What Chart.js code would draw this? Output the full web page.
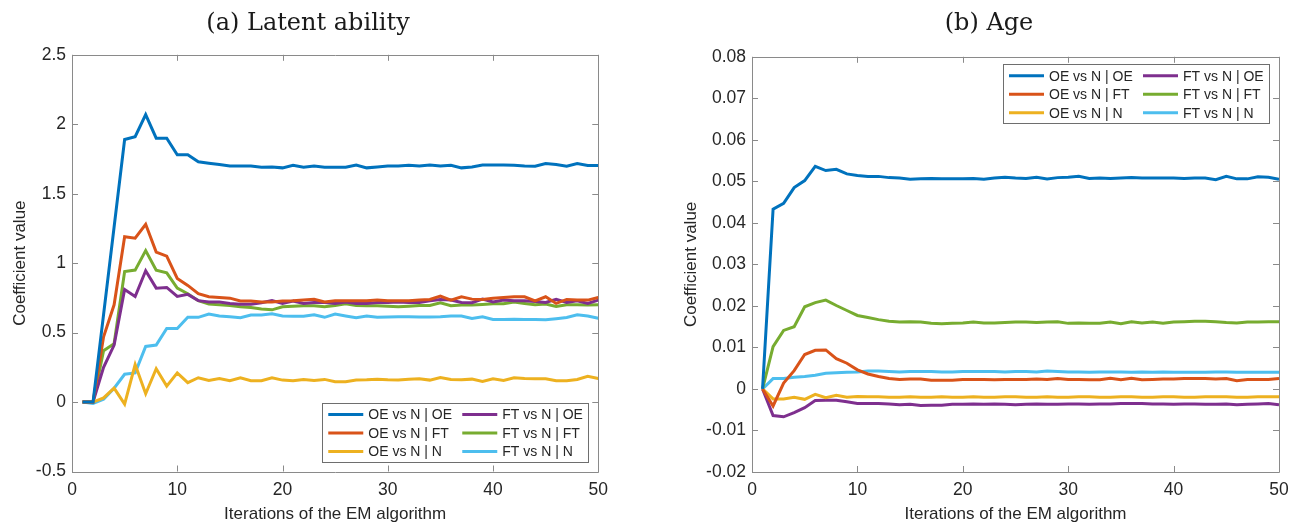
<!DOCTYPE html>
<html>
<head>
<meta charset="utf-8">
<script src="https://cdn.jsdelivr.net/npm/chart.js@4"></script>
<style>
    body { margin: 0; background: #fff; }
    #wrap { position: relative; width: 1301px; height: 531px; }
</style>
</head>
<body>
<div id="wrap">
    <div style="position:absolute;left:0;top:0;width:616px;height:531px"><canvas id="chartA"></canvas></div>
    <div style="position:absolute;left:677px;top:0;width:624px;height:531px"><canvas id="chartB"></canvas></div>
</div>
<script>
// EM iterations
const iterations = [1, 2, 3, 4, 5, 6, 7, 8, 9, 10, 11, 12, 13, 14, 15, 16, 17, 18, 19, 20,
    21, 22, 23, 24, 25, 26, 27, 28, 29, 30, 31, 32, 33, 34, 35, 36, 37, 38, 39, 40,
    41, 42, 43, 44, 45, 46, 47, 48, 49, 50];

const seriesNames = ["OE vs N | OE", "OE vs N | FT", "OE vs N | N", "FT vs N | OE", "FT vs N | FT", "FT vs N | N"];
const seriesColors = ["#0072BD", "#D95319", "#EDB120", "#7E2F8E", "#77AC30", "#4DBEEE"];

// (a) latent ability coefficients
const abilityOEvsN_OE = [0, 0, 0.63, 1.26, 1.89, 1.91, 2.07, 1.90, 1.90, 1.78, 1.78, 1.73, 1.72, 1.71, 1.70, 1.70, 1.70, 1.69, 1.693, 1.686,
    1.705, 1.69, 1.70, 1.69, 1.69, 1.69, 1.707, 1.686, 1.693, 1.70, 1.70, 1.705, 1.70, 1.707, 1.70, 1.705, 1.686, 1.693, 1.707, 1.707,
    1.707, 1.705, 1.70, 1.698, 1.717, 1.71, 1.698, 1.717, 1.703, 1.703];
const abilityOEvsN_FT = [0, 0, 0.47, 0.70, 1.19, 1.18, 1.28, 1.08, 1.05, 0.89, 0.84, 0.78, 0.758, 0.753, 0.748, 0.727, 0.727, 0.72, 0.72, 0.727,
    0.73, 0.735, 0.74, 0.72, 0.73, 0.73, 0.73, 0.73, 0.735, 0.73, 0.73, 0.729, 0.734, 0.739, 0.763, 0.734, 0.758, 0.741, 0.739, 0.748,
    0.753, 0.758, 0.758, 0.729, 0.758, 0.71, 0.739, 0.734, 0.734, 0.753];
const abilityOEvsN_N = [0, 0, 0.03, 0.10, -0.015, 0.27, 0.06, 0.24, 0.115, 0.21, 0.14, 0.175, 0.155, 0.17, 0.153, 0.175, 0.153, 0.153, 0.175, 0.158,
    0.153, 0.163, 0.156, 0.163, 0.146, 0.146, 0.158, 0.16, 0.165, 0.16, 0.158, 0.165, 0.168, 0.158, 0.177, 0.163, 0.16, 0.165, 0.149, 0.168,
    0.156, 0.175, 0.17, 0.168, 0.168, 0.153, 0.153, 0.163, 0.185, 0.17];
const abilityFTvsN_OE = [0, 0, 0.25, 0.41, 0.81, 0.76, 0.945, 0.82, 0.825, 0.76, 0.775, 0.73, 0.72, 0.72, 0.71, 0.705, 0.705, 0.715, 0.73, 0.71,
    0.727, 0.71, 0.717, 0.717, 0.71, 0.72, 0.71, 0.71, 0.717, 0.717, 0.72, 0.717, 0.717, 0.729, 0.739, 0.734, 0.717, 0.715, 0.741, 0.72,
    0.734, 0.729, 0.729, 0.724, 0.717, 0.739, 0.717, 0.729, 0.71, 0.734];
const abilityFTvsN_FT = [0, 0, 0.37, 0.42, 0.94, 0.95, 1.09, 0.95, 0.93, 0.82, 0.78, 0.73, 0.705, 0.70, 0.695, 0.686, 0.68, 0.67, 0.664, 0.686,
    0.69, 0.693, 0.693, 0.686, 0.695, 0.707, 0.695, 0.693, 0.693, 0.69, 0.686, 0.69, 0.695, 0.695, 0.715, 0.693, 0.698, 0.698, 0.703, 0.707,
    0.707, 0.72, 0.71, 0.70, 0.705, 0.688, 0.70, 0.70, 0.698, 0.70];
const abilityFTvsN_N = [0, -0.01, 0.02, 0.10, 0.20, 0.21, 0.40, 0.41, 0.53, 0.53, 0.61, 0.61, 0.633, 0.62, 0.614, 0.607, 0.626, 0.626, 0.635, 0.62,
    0.618, 0.618, 0.628, 0.61, 0.633, 0.62, 0.607, 0.62, 0.61, 0.612, 0.614, 0.614, 0.612, 0.612, 0.614, 0.619, 0.619, 0.602, 0.614, 0.595,
    0.595, 0.597, 0.595, 0.595, 0.592, 0.60, 0.609, 0.628, 0.619, 0.604];

// (b) age coefficients
const ageOEvsN_OE = [0, 0.0433, 0.0447, 0.0485, 0.0502, 0.0536, 0.0526, 0.0529, 0.0518, 0.0514, 0.0512, 0.0512, 0.0509, 0.0508, 0.0505, 0.0506, 0.0507, 0.0506, 0.0506, 0.0506,
    0.0507, 0.0505, 0.0508, 0.051, 0.0508, 0.0507, 0.051, 0.0506, 0.0509, 0.051, 0.0512, 0.0507, 0.0508, 0.0507, 0.0508, 0.0509, 0.0508, 0.0508, 0.0508, 0.0508,
    0.0507, 0.0508, 0.0508, 0.0504, 0.0512, 0.0506, 0.0506, 0.0511, 0.051, 0.0505];
const ageOEvsN_FT = [0, -0.0041, 0.0014, 0.0044, 0.0083, 0.0093, 0.0094, 0.0073, 0.0062, 0.0046, 0.0036, 0.003, 0.0025, 0.0023, 0.0024, 0.0024, 0.0021, 0.0021, 0.0021, 0.0023,
    0.0023, 0.0023, 0.0022, 0.0023, 0.0023, 0.0023, 0.0024, 0.0023, 0.0025, 0.0023, 0.0023, 0.0022, 0.0022, 0.0026, 0.0022, 0.0026, 0.0022, 0.0023, 0.0024, 0.0024,
    0.0025, 0.0025, 0.0025, 0.0024, 0.0025, 0.002, 0.0023, 0.0023, 0.0023, 0.0025];
const ageOEvsN_N = [0, -0.0024, -0.0024, -0.002, -0.0025, -0.0013, -0.0021, -0.0015, -0.002, -0.0018, -0.0019, -0.0019, -0.002, -0.002, -0.0019, -0.002, -0.002, -0.0019, -0.002, -0.002,
    -0.0019, -0.002, -0.002, -0.0019, -0.0019, -0.002, -0.002, -0.0019, -0.002, -0.002, -0.0019, -0.0019, -0.002, -0.002, -0.0019, -0.0019, -0.002, -0.002, -0.0019, -0.0019,
    -0.002, -0.002, -0.0019, -0.0019, -0.0019, -0.002, -0.002, -0.0019, -0.0019, -0.0019];
const ageFTvsN_OE = [0, -0.0064, -0.0067, -0.0057, -0.0045, -0.0028, -0.0027, -0.0027, -0.0031, -0.0035, -0.0035, -0.0035, -0.0036, -0.0038, -0.0037, -0.004, -0.0039, -0.0039, -0.0037, -0.0037,
    -0.0036, -0.0037, -0.0036, -0.0037, -0.0038, -0.0037, -0.0036, -0.0037, -0.0037, -0.0036, -0.0036, -0.0037, -0.0036, -0.0036, -0.0035, -0.0035, -0.0035, -0.0036, -0.0036, -0.0037,
    -0.0036, -0.0036, -0.0037, -0.0037, -0.0036, -0.0038, -0.0037, -0.0036, -0.0035, -0.0038];
const ageFTvsN_FT = [0, 0.0102, 0.0141, 0.015, 0.0198, 0.0208, 0.0214, 0.0201, 0.0189, 0.0177, 0.0172, 0.0167, 0.0163, 0.0161, 0.0162, 0.0161, 0.0158, 0.0157, 0.0158, 0.0159,
    0.0161, 0.0159, 0.0159, 0.016, 0.0161, 0.0161, 0.016, 0.0161, 0.0162, 0.0158, 0.0159, 0.0158, 0.0158, 0.0161, 0.0157, 0.0162, 0.0159, 0.0161, 0.0158, 0.0161,
    0.0162, 0.0163, 0.0163, 0.0162, 0.016, 0.0159, 0.0161, 0.0161, 0.0162, 0.0162];
const ageFTvsN_N = [0, 0.0025, 0.0025, 0.0028, 0.003, 0.0033, 0.0038, 0.0039, 0.004, 0.0041, 0.0043, 0.0043, 0.0042, 0.0041, 0.0042, 0.0042, 0.0042, 0.0041, 0.0041, 0.0042,
    0.0042, 0.0042, 0.0042, 0.0041, 0.0042, 0.0042, 0.0041, 0.0043, 0.0042, 0.0041, 0.0041, 0.004, 0.0041, 0.0041, 0.0041, 0.004, 0.0041, 0.004, 0.0041, 0.004,
    0.004, 0.004, 0.004, 0.0041, 0.0041, 0.004, 0.004, 0.004, 0.004, 0.004];

const AXIS_GREY = "#8a8a8a";
const TEXT_COL = "#262626";
Chart.defaults.font.family = "'Liberation Sans', Arial, sans-serif";
Chart.defaults.color = TEXT_COL;

// box round the plot area with inward ticks on all four sides
const boxTicks = {
    id: "boxTicks",
    beforeDatasetsDraw(chart) {
        const { ctx, chartArea: a, scales } = chart;
        const len = 6;
        ctx.save();
        ctx.strokeStyle = AXIS_GREY;
        ctx.lineWidth = 1;
        ctx.beginPath();
        ctx.rect(Math.round(a.left) + 0.5, Math.round(a.top) + 0.5, Math.round(a.right - a.left), Math.round(a.bottom - a.top));
        scales.x.ticks.forEach(t => {
            const px = Math.round(scales.x.getPixelForValue(t.value)) + 0.5;
            ctx.moveTo(px, a.bottom); ctx.lineTo(px, a.bottom - len);
            ctx.moveTo(px, a.top); ctx.lineTo(px, a.top + len);
        });
        scales.y.ticks.forEach(t => {
            const py = Math.round(scales.y.getPixelForValue(t.value)) + 0.5;
            ctx.moveTo(a.left, py); ctx.lineTo(a.left + len, py);
            ctx.moveTo(a.right, py); ctx.lineTo(a.right - len, py);
        });
        ctx.stroke();
        ctx.restore();
    }
};

// two-column legend drawn inside the axes
const boxLegend = {
    id: "boxLegend",
    afterDraw(chart, args, opts) {
        const { ctx, chartArea: a } = chart;
        const w = 266, h = 59;
        const left = a.right - 10 - w;
        const top = opts.corner === "top" ? a.top + 7 : a.bottom - 10 - h;
        ctx.save();
        ctx.fillStyle = "#fff";
        ctx.fillRect(left, top, w, h);
        ctx.strokeStyle = "#6e6e6e";
        ctx.lineWidth = 1;
        ctx.strokeRect(Math.round(left) + 0.5, Math.round(top) + 0.5, w, h);
        ctx.font = "14px 'Liberation Sans', Arial, sans-serif";
        ctx.textBaseline = "middle";
        ctx.fillStyle = TEXT_COL;
        chart.data.datasets.forEach((ds, i) => {
            const col = Math.floor(i / 3), row = i % 3;
            const x0 = left + 6 + col * 134;
            const y0 = top + 12 + row * 18.5;
            ctx.strokeStyle = ds.borderColor;
            ctx.lineWidth = 3;
            ctx.beginPath();
            ctx.moveTo(x0, y0); ctx.lineTo(x0 + 35, y0);
            ctx.stroke();
            ctx.fillText(ds.label, x0 + 40, y0 + 1);
        });
        ctx.restore();
    }
};

function makeChart(id, title, series, yMin, yMax, yStep, fmt, opt) {
    const datasets = series.map((vals, i) => ({
        label: seriesNames[i],
        data: iterations.map((it, k) => ({ x: it, y: vals[k] })),
        borderColor: seriesColors[i],
        backgroundColor: seriesColors[i],
        borderWidth: 3,
        pointRadius: 0,
        tension: 0,
        fill: false
    }));
    return new Chart(document.getElementById(id), {
        type: "line",
        data: { datasets },
        options: {
            responsive: true,
            maintainAspectRatio: false,
            animation: false,
            layout: { padding: { left: opt.padLeft, right: opt.padRight, top: 0, bottom: 0 } },
            plugins: {
                legend: { display: false },
                tooltip: { enabled: false },
                title: {
                    display: true,
                    text: title,
                    font: { family: "'DejaVu Serif', serif", size: 24, weight: "normal" },
                    color: "#1a1a1a",
                    padding: { top: 9, bottom: opt.titleGap }
                },
                boxLegend: { corner: opt.legendCorner }
            },
            scales: {
                x: {
                    type: "linear",
                    min: 0,
                    max: 50,
                    ticks: { stepSize: 10, padding: 8, font: { size: 17.5 }, color: TEXT_COL },
                    grid: { display: false, drawTicks: false },
                    border: { display: false },
                    title: {
                        display: true,
                        text: "Iterations of the EM algorithm",
                        font: { size: 17 },
                        color: TEXT_COL,
                        padding: { top: 0, bottom: 6 }
                    },
                    afterFit(s) { s.height = opt.xHeight; }
                },
                y: {
                    min: yMin,
                    max: yMax,
                    ticks: { stepSize: yStep, padding: 6, font: { size: 17.5 }, color: TEXT_COL, callback: fmt },
                    grid: { display: false, drawTicks: false },
                    border: { display: false },
                    title: {
                        display: true,
                        text: "Coefficient value",
                        font: { size: 17 },
                        color: TEXT_COL,
                        padding: { top: opt.yTitlePad, bottom: 0 }
                    },
                    afterFit(s) { s.width = opt.yWidth; }
                }
            }
        },
        plugins: [boxTicks, boxLegend]
    });
}

makeChart("chartA", "(a) Latent ability",
    [abilityOEvsN_OE, abilityOEvsN_FT, abilityOEvsN_N, abilityFTvsN_OE, abilityFTvsN_FT, abilityFTvsN_N],
    -0.5, 2.5, 0.5,
    v => String(+v.toFixed(1)),
    { padLeft: 16, padRight: 16, titleGap: 17, xHeight: 59.5, yWidth: 56, yTitlePad: -6, legendCorner: "bottom" });

makeChart("chartB", "(b) Age",
    [ageOEvsN_OE, ageOEvsN_FT, ageOEvsN_N, ageFTvsN_OE, ageFTvsN_FT, ageFTvsN_N],
    -0.02, 0.08, 0.01,
    v => Math.abs(v) < 1e-9 ? "0" : v.toFixed(2),
    { padLeft: 22, padRight: 22, titleGap: 19, xHeight: 59, yWidth: 53, yTitlePad: -18, legendCorner: "top" });
</script>
</body>
</html>
